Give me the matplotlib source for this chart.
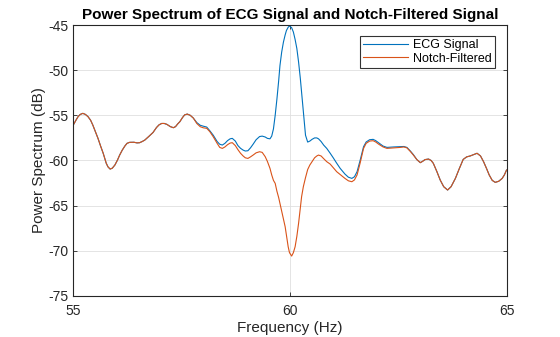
import matplotlib
matplotlib.use("Agg")
import matplotlib.pyplot as plt

plt.rcParams['font.family'] = ['Liberation Sans', 'DejaVu Sans']
plt.rcParams['axes.unicode_minus'] = False

# frequency points (Hz)
freq = [55.00, 55.06, 55.11, 55.16, 55.22, 55.28, 55.34, 55.40, 55.45, 55.51,
        55.57, 55.63, 55.69, 55.76, 55.80, 55.85, 55.90, 55.96, 56.02, 56.07,
        56.13, 56.19, 56.24, 56.30, 56.40, 56.47, 56.53, 56.59, 56.65, 56.74,
        56.84, 56.92, 56.98, 57.04, 57.10, 57.16, 57.24, 57.31, 57.36, 57.41,
        57.46, 57.52, 57.57, 57.63, 57.70, 57.77, 57.85, 57.93, 58.00, 58.08,
        58.15, 58.23, 58.32, 58.38, 58.44, 58.50, 58.56, 58.62, 58.67, 58.74,
        58.80, 58.86, 58.92, 58.97, 59.03, 59.09, 59.15, 59.22, 59.30, 59.36,
        59.43, 59.48, 59.54, 59.58, 59.62, 59.66, 59.70, 59.74, 59.77, 59.81,
        59.85, 59.89, 59.92, 59.96, 59.99, 60.04, 60.08, 60.12, 60.16, 60.20,
        60.24, 60.27, 60.31, 60.36, 60.41, 60.46, 60.51, 60.57, 60.62, 60.66,
        60.72, 60.78, 60.85, 60.93, 61.00, 61.08, 61.16, 61.27, 61.35, 61.43,
        61.49, 61.55, 61.62, 61.70, 61.76, 61.84, 61.92, 61.98, 62.05, 62.15,
        62.24, 62.40, 62.55, 62.63, 62.70, 62.78, 62.85, 62.93, 63.01, 63.06,
        63.12, 63.20, 63.26, 63.31, 63.39, 63.47, 63.55, 63.64, 63.72, 63.82,
        63.91, 64.00, 64.08, 64.16, 64.24, 64.32, 64.40, 64.47, 64.54, 64.60,
        64.67, 64.74, 64.82, 64.90, 64.95, 65.00]

# power spectrum of the raw ECG signal (dB)
ecg_db = [-56.07, -55.55, -55.15, -54.90, -54.78, -54.90, -55.15, -55.55, -56.07, -56.80,
          -57.55, -58.40, -59.20, -60.30, -60.70, -60.95, -60.85, -60.50, -59.95, -59.40,
          -58.85, -58.40, -58.10, -57.99, -57.98, -58.05, -58.03, -57.90, -57.74, -57.35,
          -56.90, -56.35, -56.05, -55.90, -55.90, -56.00, -56.25, -56.37, -56.25, -55.95,
          -55.70, -55.25, -54.95, -54.86, -55.00, -55.30, -55.80, -56.10, -56.20, -56.30,
          -56.70, -57.20, -57.90, -58.20, -58.29, -58.10, -57.80, -57.60, -57.55, -57.85,
          -58.35, -58.65, -58.85, -58.95, -58.92, -58.60, -58.20, -57.70, -57.35, -57.30,
          -57.40, -57.55, -57.60, -57.30, -56.50, -55.00, -53.20, -51.20, -49.50, -48.00,
          -46.90, -46.10, -45.60, -45.25, -45.10, -45.30, -45.78, -46.60, -47.60, -49.10,
          -50.90, -52.50, -54.60, -57.20, -57.96, -57.85, -57.66, -57.50, -57.50, -57.60,
          -57.90, -58.30, -58.66, -59.20, -59.70, -60.30, -60.87, -61.50, -61.85, -61.98,
          -61.80, -61.24, -60.00, -58.47, -57.95, -57.70, -57.66, -57.80, -58.05, -58.40,
          -58.55, -58.50, -58.47, -58.45, -58.55, -58.95, -59.35, -59.90, -60.24, -60.10,
          -59.90, -59.84, -60.00, -60.31, -61.20, -62.17, -62.90, -63.27, -62.90, -61.98,
          -60.90, -59.88, -59.60, -59.50, -59.35, -59.20, -59.50, -60.13, -60.90, -61.60,
          -62.20, -62.42, -62.30, -61.98, -61.60, -61.06]

# power spectrum after the 60 Hz notch filter (dB)
notch_db = [-56.07, -55.55, -55.15, -54.90, -54.78, -54.90, -55.15, -55.55, -56.07, -56.80,
            -57.55, -58.40, -59.20, -60.30, -60.70, -60.95, -60.85, -60.50, -59.95, -59.40,
            -58.85, -58.40, -58.10, -57.99, -57.98, -58.05, -58.03, -57.90, -57.74, -57.35,
            -56.90, -56.35, -56.05, -55.90, -55.90, -56.00, -56.25, -56.37, -56.25, -55.95,
            -55.70, -55.25, -54.95, -54.86, -55.00, -55.30, -55.90, -56.26, -56.38, -56.44,
            -56.80, -57.37, -58.10, -58.55, -58.66, -58.50, -58.25, -58.07, -58.03, -58.35,
            -58.80, -59.20, -59.50, -59.70, -59.77, -59.60, -59.40, -59.15, -59.03, -59.10,
            -59.58, -60.10, -60.87, -61.60, -62.20, -62.53, -63.40, -64.10, -64.75, -65.60,
            -66.50, -67.33, -68.30, -69.55, -70.20, -70.58, -70.20, -69.55, -68.40, -66.96,
            -65.30, -64.00, -62.90, -61.90, -61.00, -60.50, -60.13, -59.70, -59.50, -59.40,
            -59.50, -59.80, -60.13, -60.40, -60.80, -61.24, -61.55, -61.98, -62.25, -62.35,
            -62.15, -61.60, -60.30, -58.66, -58.10, -57.85, -57.81, -57.95, -58.20, -58.50,
            -58.66, -58.60, -58.55, -58.50, -58.60, -59.00, -59.40, -59.90, -60.24, -60.10,
            -59.90, -59.84, -60.00, -60.31, -61.20, -62.17, -62.90, -63.27, -62.90, -61.98,
            -60.90, -59.88, -59.60, -59.50, -59.35, -59.20, -59.50, -60.13, -60.90, -61.60,
            -62.20, -62.42, -62.30, -61.98, -61.60, -61.06]

x_ticks = [55, 60, 65]
y_ticks = [-75, -70, -65, -60, -55, -50, -45]

fig = plt.figure(figsize=(5.6, 3.37), dpi=100)
ax = fig.add_axes([0.1309, 0.1217, 0.7736, 0.8041])

ax.plot(freq, ecg_db, color='#0072BD', lw=0.8, label='ECG Signal')
ax.plot(freq, notch_db, color='#D95319', lw=0.8, label='Notch-Filtered')

ax.set_xlim(55, 65)
ax.set_ylim(-75, -45)
ax.set_xticks(x_ticks)
ax.set_yticks(y_ticks)
ax.tick_params(direction='in', length=3, width=0.6, labelsize=10,
               top=True, right=True, colors='#262626')
ax.tick_params(axis='x', pad=6)
ax.grid(True, color='#dfdfdf', lw=0.6)
ax.set_axisbelow(True)
for s in ax.spines.values():
    s.set_linewidth(0.8)
    s.set_color('#262626')

ax.set_xlabel('Frequency (Hz)', fontsize=11, color='#262626', labelpad=2)
ax.set_ylabel('Power Spectrum (dB)', fontsize=11, color='#262626', labelpad=2)
ax.set_title('Power Spectrum of ECG Signal and Notch-Filtered Signal',
             fontsize=11, fontweight='bold', pad=4)

leg = ax.legend(loc='upper right', fontsize=9, frameon=True, fancybox=False,
                edgecolor='black', borderpad=0.25, labelspacing=0.1,
                handlelength=3.6, handletextpad=0.4, borderaxespad=0.9)
leg.get_frame().set_linewidth(0.8)

fig.savefig('out.png', dpi=100)
